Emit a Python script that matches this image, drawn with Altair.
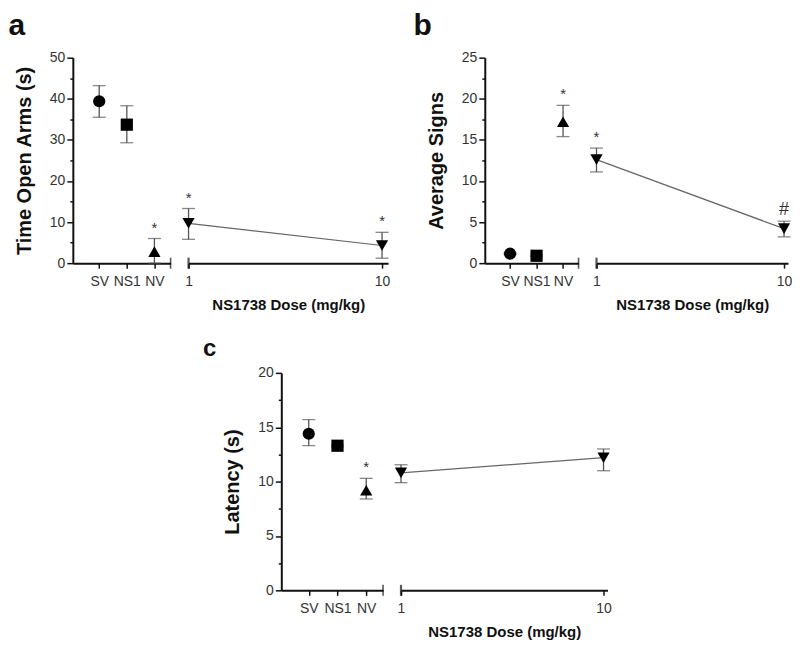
import altair as alt
import pandas as pd

# ---------------- data ----------------
groups = ["SV", "NS1", "NV"]
doses = [1, 10]

a_group_mean = [39.4, 33.7, 2.8]
a_group_lo = [35.5, 29.3, 0.0]
a_group_hi = [43.2, 38.3, 6.0]
a_group_sig = ["", "", "*"]
a_dose_mean = [9.7, 4.3]
a_dose_lo = [5.8, 1.2]
a_dose_hi = [13.3, 7.5]
a_dose_sig = ["*", "*"]

b_group_mean = [1.15, 0.9, 17.2]
b_group_lo = [1.05, 0.8, 15.4]
b_group_hi = [1.25, 1.0, 19.2]
b_group_sig = ["", "", "*"]
b_dose_mean = [12.6, 4.2]
b_dose_lo = [11.1, 3.2]
b_dose_hi = [14.0, 5.1]
b_dose_sig = ["*", "#"]

c_group_mean = [14.4, 13.3, 9.2]
c_group_lo = [13.3, 13.2, 8.4]
c_group_hi = [15.7, 13.4, 10.3]
c_group_sig = ["", "", "*"]
c_dose_mean = [10.8, 12.2]
c_dose_lo = [9.9, 11.0]
c_dose_hi = [11.55, 13.0]
c_dose_sig = ["", ""]

# ---------------- style ----------------
FONT = "Liberation Sans"
SHAPES = ["circle", "square", "triangle-up"]
ERR_COLOR = "#555555"
LINE_COLOR = "#666666"
TXT_COLOR = "#333333"
AXIS_COLOR = "#111111"
MSIZE = 150


def y_axis(ymax, major, minor, title):
    vals = [round(i * minor, 3) for i in range(int(round(ymax / minor)) + 1)]
    return alt.Axis(
        values=vals,
        title=title,
        titleFontSize=20,
        titlePadding=15,
        labelPadding=2,
        labelOverlap=False,
        labelExpr=f"datum.value % {major} === 0 ? datum.label : ''",
        tickSize={"condition": {"test": f"datum.value % {major} === 0", "value": 6}, "value": 3},
    )


def errbar(df, x, y_lo, y2):
    return alt.Chart(df).mark_errorbar(
        ticks=alt.MarkConfig(size=13, color=ERR_COLOR),
        rule=alt.MarkConfig(color=ERR_COLOR),
        thickness=1.3,
        color=ERR_COLOR,
    ).encode(x=x, y=y_lo, y2=y2)


def sig_text(df, x, yscale, yax):
    star = alt.Chart(df).transform_filter("datum.sig === '*'").mark_text(
        baseline="bottom", dy=-3, color=TXT_COLOR, font=FONT, fontSize=15
    ).encode(x=x, y=alt.Y("hi:Q", scale=yscale, axis=yax), text="sig:N")
    hash_ = alt.Chart(df).transform_filter("datum.sig === '#'").mark_text(
        baseline="bottom", dy=-2, color=TXT_COLOR, font=FONT, fontSize=18
    ).encode(x=x, y=alt.Y("hi:Q", scale=yscale, axis=yax), text="sig:N")
    return [star, hash_]


def break_tick(df, x, yscale, yax):
    return alt.Chart(df).mark_tick(orient="vertical", size=11, thickness=2, color=AXIS_COLOR).encode(
        x=x, y=alt.Y(datum=0, scale=yscale, axis=yax)
    )


def panel(letter, letter_dx, letter_offset, letter_size,
          gmean, glo, ghi, gsig, dmean, dlo, dhi, dsig,
          ymax, major, minor, ytitle, wl, wr, h, dmax):
    gdf = pd.DataFrame({"group": groups, "mean": gmean, "lo": glo, "hi": ghi, "sig": gsig})
    ddf = pd.DataFrame({"dose": doses, "mean": dmean, "lo": dlo, "hi": dhi, "sig": dsig})
    yscale = alt.Scale(domain=[0, ymax], nice=False, zero=True)
    yax = y_axis(ymax, major, minor, ytitle)

    xg = alt.X(
        "group:N", sort=groups,
        scale=alt.Scale(type="point", padding=0.77, align=0.62),
        axis=alt.Axis(title=None, labelAngle=0, tickSize=5, labelPadding=6),
    )
    g_err = errbar(gdf, xg, alt.Y("lo:Q", scale=yscale, axis=yax), alt.Y2("hi:Q"))
    g_pts = alt.Chart(gdf).mark_point(filled=True, opacity=1, size=MSIZE, color="black").encode(
        x=xg,
        y=alt.Y("mean:Q", scale=yscale, axis=yax),
        shape=alt.Shape("group:N", scale=alt.Scale(domain=groups, range=SHAPES), legend=None),
    )
    g_break = alt.Chart(gdf.head(1)).mark_tick(orient="vertical", size=11, thickness=1.6,
                                               color=AXIS_COLOR).encode(
        x=alt.value(wl), y=alt.Y(datum=0, scale=yscale, axis=yax)
    )
    left = alt.layer(g_err, g_pts, g_break, *sig_text(gdf, xg, yscale, yax)).properties(
        width=wl, height=h,
        title=alt.TitleParams(letter, anchor="start", frame="bounds", dx=letter_dx,
                              offset=letter_offset, fontSize=letter_size),
    )

    xd = alt.X(
        "dose:Q",
        scale=alt.Scale(type="log", domain=[1, dmax], nice=False),
        axis=alt.Axis(values=doses, format="d", title="NS1738 Dose (mg/kg)", titleFontSize=15,
                      titlePadding=9, tickSize=5, labelPadding=6, labelFlush=False),
    )
    ynone = alt.Y("lo:Q", scale=yscale, axis=None)
    d_err = errbar(ddf, xd, ynone, alt.Y2("hi:Q"))
    d_line = alt.Chart(ddf).mark_line(color=LINE_COLOR, strokeWidth=1.2).encode(
        x=xd, y=alt.Y("mean:Q", scale=yscale, axis=None)
    )
    d_pts = alt.Chart(ddf).mark_point(filled=True, opacity=1, size=MSIZE, color="black",
                                      shape="triangle-down").encode(
        x=xd, y=alt.Y("mean:Q", scale=yscale, axis=None)
    )
    d_break = alt.Chart(ddf.head(1)).mark_tick(orient="vertical", size=11, thickness=2.2,
                                               color=AXIS_COLOR).encode(
        x=xd, y=alt.Y(datum=0, scale=yscale, axis=None)
    )
    right = alt.layer(d_err, d_line, d_pts, d_break, *sig_text(ddf, xd, yscale, None)).properties(
        width=wr, height=h
    )
    return left, right


def spacer(w, h):
    df = pd.DataFrame({"v": [0]})
    return alt.Chart(df).mark_point(opacity=0, size=1).encode(
        x=alt.X("v:Q", axis=None), y=alt.Y("v:Q", axis=None)
    ).properties(width=w, height=h)


H1 = 206
aL, aR = panel("a", -6, 10, 30, a_group_mean, a_group_lo, a_group_hi, a_group_sig,
               a_dose_mean, a_dose_lo, a_dose_hi, a_dose_sig,
               50, 10, 5, "Time Open Arms (s)", 98, 200, H1, 10.74)
bL, bR = panel("b", -13, 10, 30, b_group_mean, b_group_lo, b_group_hi, b_group_sig,
               b_dose_mean, b_dose_lo, b_dose_hi, b_dose_sig,
               25, 5, 2.5, "Average Signs", 94, 192, H1, 10.5)
cL, cR = panel("c", -20, 5, 24, c_group_mean, c_group_lo, c_group_hi, c_group_sig,
               c_dose_mean, c_dose_lo, c_dose_hi, c_dose_sig,
               20, 5, 2.5, "Latency (s)", 102, 207, 218, 10.46)

row1 = alt.hconcat(aL, aR, spacer(61, H1), bL, bR, spacing=18, bounds="flush")
row2 = alt.hconcat(spacer(191, 10), cL, cR, spacing=18, bounds="flush")

chart = alt.vconcat(row1, row2, spacing=25).properties(
    padding={"left": 0, "top": 2, "right": 0, "bottom": 0},
).configure_view(
    stroke=None
).configure_axis(
    grid=False,
    domainColor=AXIS_COLOR,
    domainWidth=2,
    tickColor=AXIS_COLOR,
    tickWidth=1.5,
    labelColor=TXT_COLOR,
    labelFont=FONT,
    labelFontSize=14,
    titleFont=FONT,
    titleFontWeight="bold",
    titleColor=AXIS_COLOR,
).configure_title(
    font=FONT,
    fontWeight="bold",
    color=AXIS_COLOR,
)

chart.save("out.html", embed_options={"renderer": "svg", "actions": False})
